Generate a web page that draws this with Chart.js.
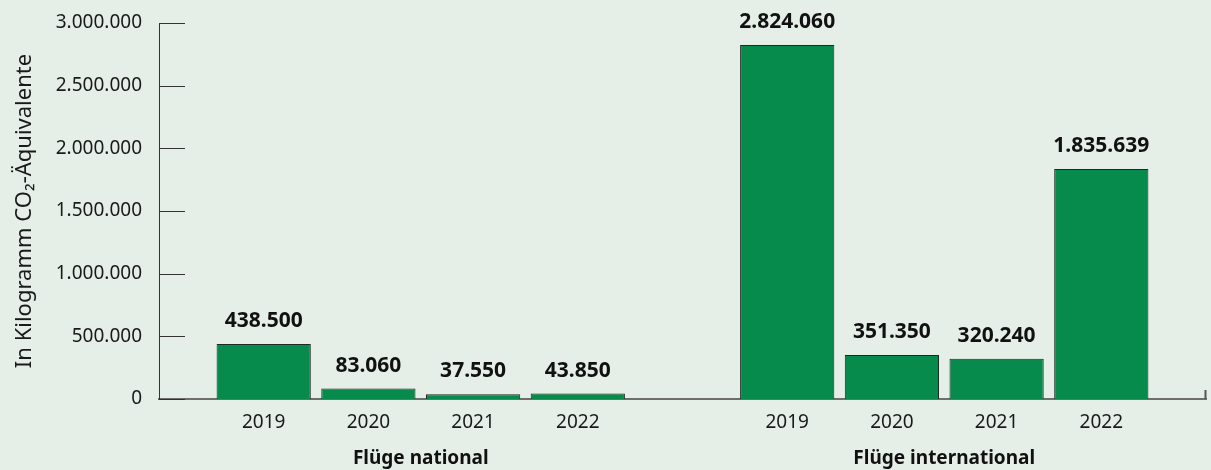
<!DOCTYPE html>
<html>
<head>
<meta charset="utf-8">
<script src="https://cdn.jsdelivr.net/npm/chart.js@4"></script>
<style>
  html, body { margin: 0; padding: 0; background: #e5eee7; }
  #wrap { width: 1211px; height: 470px; }
</style>
</head>
<body>
<div id="wrap"><canvas id="myBarChart"></canvas></div>
<script>
// categories (empty slots keep the gap between the two groups)
const years = ['', '2019', '2020', '2021', '2022', '', '2019', '2020', '2021', '2022', ''];
const groupNames = ['Flüge national', 'Flüge international'];
const groupCenters = [2.5, 7.5];
const nationalValues = [438500, 83060, 37550, 43850];
const internationalValues = [2824060, 351350, 320240, 1835639];
const yTicks = [0, 500000, 1000000, 1500000, 2000000, 2500000, 3000000];

const values = [null].concat(nationalValues, [null], internationalValues, [null]);

const fmt = v => v.toLocaleString('de-DE');

// short tick marks pointing into the plot, plus value labels
const extras = {
  id: 'extras',
  afterDraw(chart) {
    const ctx = chart.ctx;
    const y = chart.scales.y;
    const x = chart.scales.x;
    const area = chart.chartArea;
    ctx.save();
    ctx.strokeStyle = '#333333';
    ctx.lineWidth = 1;
    y.ticks.forEach((t, i) => {
      const py = Math.round(y.getPixelForTick(i)) + 0.5;
      ctx.beginPath();
      ctx.moveTo(area.left, py);
      ctx.lineTo(area.left + 26, py);
      ctx.stroke();
    });
    // small end tick at the right of the x axis
    const px = Math.round(x.getPixelForValue(years.length - 1)) - 0.5;
    ctx.strokeStyle = '#555555';
    ctx.lineWidth = 2;
    ctx.beginPath();
    ctx.moveTo(px, area.bottom);
    ctx.lineTo(px, area.bottom - 9);
    ctx.stroke();

    const meta = chart.getDatasetMeta(0);
    ctx.fillStyle = '#111111';
    ctx.font = 'bold 21px "Noto Sans"';
    ctx.textAlign = 'center';
    ctx.textBaseline = 'alphabetic';
    meta.data.forEach((bar, i) => {
      const v = values[i];
      if (v == null) return;
      ctx.fillText(fmt(v), bar.x, bar.y - 17);
    });
    ctx.restore();
  }
};

const noSidePad = (scale) => { scale.paddingLeft = 0; scale.paddingRight = 0; };

const ctx = document.getElementById('myBarChart').getContext('2d');
const myBarChart = new Chart(ctx, {
  type: 'bar',
  data: {
    labels: years,
    datasets: [{
      data: values,
      backgroundColor: '#068b4d',
      borderColor: '#1b2b22',
      borderWidth: 1,
      barPercentage: 0.9,
      categoryPercentage: 1,
    }],
  },
  options: {
    responsive: true,
    maintainAspectRatio: false,
    animation: false,
    layout: { padding: { top: 23, right: 5, left: 0, bottom: 0 } },
    plugins: { legend: { display: false }, tooltip: { enabled: false } },
    scales: {
      x: {
        offset: false,
        grid: { display: false, drawTicks: false },
        border: { display: true, color: '#6e6e6e', width: 2 },
        ticks: {
          autoSkip: false,
          maxRotation: 0,
          padding: 12,
          color: '#1a1a1a',
          font: { family: 'Noto Sans', size: 19 },
        },
        afterFit(scale) { scale.height = 42; noSidePad(scale); },
      },
      group: {
        type: 'linear',
        position: 'bottom',
        offset: false,
        min: 0,
        max: years.length - 1,
        grid: { display: false, drawTicks: false },
        border: { display: false },
        afterBuildTicks(scale) {
          scale.ticks = groupCenters.map(v => ({ value: v }));
        },
        ticks: {
          padding: 6,
          color: '#111111',
          font: { family: 'Noto Sans', size: 19, weight: 'bold' },
          callback: (v) => groupNames[groupCenters.indexOf(v)],
        },
        afterFit(scale) { scale.height = 29; noSidePad(scale); },
      },
      y: {
        min: 0,
        max: 3000000,
        afterBuildTicks(scale) {
          scale.ticks = yTicks.map(v => ({ value: v }));
        },
        grid: { display: false, drawTicks: false },
        border: { display: true, color: '#333333', width: 1 },
        ticks: {
          padding: 17,
          color: '#1a1a1a',
          font: { family: 'Noto Sans', size: 19 },
          callback: (v) => fmt(v),
        },
        title: {
          display: true,
          text: 'In Kilogramm CO₂-Äquivalente',
          color: '#1a1a1a',
          font: { family: 'Noto Sans', size: 22 },
          padding: { top: 12, bottom: 0 },
        },
        afterFit(scale) {
          scale.width = 159;
          scale.paddingTop = 0;
          scale.paddingBottom = 0;
        },
      },
    },
  },
  plugins: [extras],
});
</script>
</body>
</html>
